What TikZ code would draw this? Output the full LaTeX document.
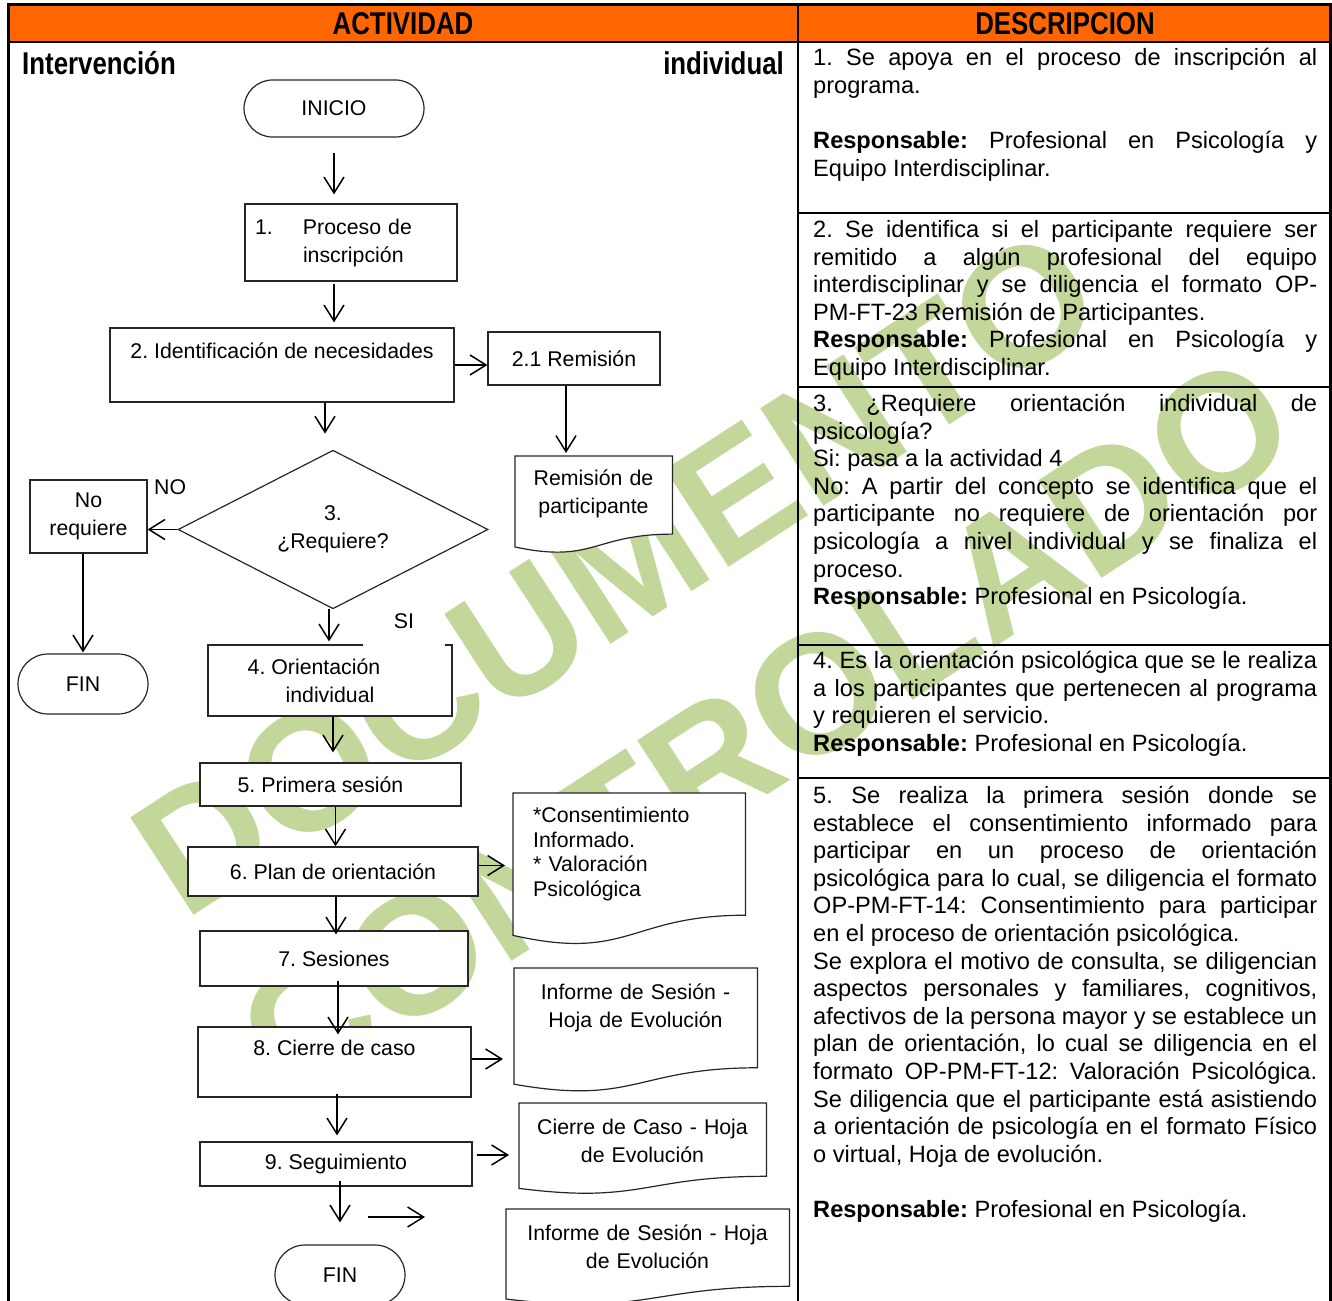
\documentclass[tikz,border=0pt]{standalone}
\usepackage{fontspec}
\setmainfont{Liberation Sans}
\newfontfamily\narrowfont[FakeStretch=0.82]{Liberation Sans}
\usetikzlibrary{calc,positioning,arrows.meta,shapes.geometric,shapes.misc}

\definecolor{cabecera}{HTML}{FF6600}
\definecolor{marcaverde}{HTML}{C3D79B}

\frenchspacing
\hyphenpenalty=10000
\exhyphenpenalty=10000
\tolerance=10000

% marco de documento (borde inferior ondulado)
\newcommand{\docframe}[1]{%
  \draw[docline] (#1.north west) -- (#1.north east)
    -- ($(#1.north east)!0.802!(#1.south east)$)
    .. controls ($(#1.north)!0.802!(#1.south)$) and ($(#1.north)!1.107!(#1.south)$)
    .. ($(#1.north west)!0.934!(#1.south west)$) -- cycle;}

\tikzset{
  flujo/.style={font=\fontsize{21.3}{28}\selectfont},
  proceso/.style={flujo, draw=black!85, fill=white, line width=1.2pt, rectangle, inner sep=0pt, align=center},
  terminal/.style={flujo, draw=black!85, fill=white, line width=1.2pt, rounded rectangle, inner sep=0pt},
  decision/.style={flujo, draw=black!85, fill=white, line width=1.2pt, diamond, inner sep=0pt, align=center},
  docbox/.style={rectangle, inner sep=0pt, anchor=north west},
  docline/.style={draw=black!85, fill=white, line width=1.2pt},
  doctext/.style={flujo, inner sep=0pt, align=center, anchor=base},
  flecha/.style={-{Straight Barb[length=16pt,width=20pt]}, line width=1.5pt},
  desc/.style={font=\fontsize{23.6}{27.6}\selectfont, text width=504pt, align=justify, inner sep=0pt, anchor=base west},
  borde/.style={line width=2.5pt},
  titulo/.style={font=\narrowfont\bfseries\fontsize{31.5}{36}\selectfont},
  marca/.style={text=marcaverde, font=\fontsize{169}{180}\selectfont\bfseries, rotate=33, inner sep=0pt},
}

\begin{document}
\begin{tikzpicture}[x=1pt, y=1pt]
  \useasboundingbox (0,0) rectangle (1332,-1300);

  % marca de agua
  \node[marca] (marca1) at (616,-572) {DOCUMENTO};
  \node[marca] (marca2) at (766,-727) {CONTROLADO};

  % tabla
  \fill[cabecera] (8,-5) rectangle (1330,-42);
  \draw[line width=3pt] (8,-1320) -- (8,-5) -- (1330,-5) -- (1330,-1320);
  \draw[borde] (8,-42) -- (1330,-42);
  \draw[borde] (798,-5) -- (798,-1320);
  \foreach \y in {213,387,645,778}
    \draw[borde] (798,-\y) -- (1330,-\y);

  \node[titulo] (actividad) at (403,-24) {ACTIVIDAD};
  \node[titulo] (descripcion) at (1065,-24) {DESCRIPCION};
  \node[titulo, anchor=base west, inner sep=0pt] (interv) at (22,-75) {Intervención};
  \node[titulo, anchor=base east, inner sep=0pt] (indiv) at (784,-75) {individual};

  % diagrama
  \node[terminal, minimum width=180, minimum height=57] (inicio) at (334,-108.5) {INICIO};
  \node[proceso, minimum width=212, minimum height=77, text width=192, align=left] (p1) at (351,-242.5)
    {\makebox[48pt][l]{1.}Proceso de\\\hspace*{48pt}inscripción};
  \node[proceso, minimum width=344, minimum height=74] (p2) at (282,-365) {2. Identificación de necesidades\\\mbox{}};
  \node[proceso, minimum width=172, minimum height=53] (rem) at (574,-358.5) {2.1 Remisión};
  \node[docbox, minimum width=157, minimum height=97] (remdoc) at (515,-456) {};
  \docframe{remdoc}
  \node[doctext, text width=150] (remdoctxt) at (593.5,-485.5) {Remisión de\\participante};

  \node[decision, minimum width=310, minimum height=147] (dec) at (333,-529.5) {3.\\¿Requiere?};
  \node[proceso, minimum width=117, minimum height=73] (noreq) at (88.5,-516.5) {No\\requiere};
  \node[flujo, anchor=west, inner sep=0pt] (no) at (154,-487) {NO};
  \node[terminal, minimum width=130, minimum height=60] (fin1) at (83,-684) {FIN};

  \node[proceso, minimum width=244, minimum height=71] (p4) at (330,-680.5) {4. Orientación\hspace*{32pt}\\individual};
  \node[flujo, fill=white, minimum width=82, minimum height=50, inner sep=0pt] (si) at (404,-621) {SI};
  \node[proceso, minimum width=261, minimum height=43] (p5) at (330.5,-784.5) {5. Primera sesión\hspace*{20pt}};
  \node[proceso, minimum width=290, minimum height=49] (p6) at (333,-871.5) {6. Plan de orientación};
  \node[docbox, minimum width=232, minimum height=152] (valdoc) at (513,-793) {};
  \docframe{valdoc}
  \node[font=\fontsize{21.3}{24.5}\selectfont, text width=200, align=left, anchor=base west, inner sep=0pt] (valdoctxt) at (533,-822.5)
    {*Consentimiento\\Informado.\\{}* Valoración\\Psicológica};

  \node[proceso, minimum width=268, minimum height=55] (p7) at (334,-958.5) {7. Sesiones};
  \node[proceso, minimum width=273, minimum height=70] (p8) at (334.5,-1062) {8. Cierre de caso\\\mbox{}};
  \node[docbox, minimum width=243, minimum height=124] (infdoc) at (514,-968) {};
  \docframe{infdoc}
  \node[doctext, text width=230] (infdoctxt) at (635.5,-999.5) {Informe de Sesión -\\Hoja de Evolución};

  \node[proceso, minimum width=272, minimum height=44] (p9) at (336,-1164) {9. Seguimiento};
  \node[docbox, minimum width=247, minimum height=91] (cierredoc) at (519,-1103) {};
  \docframe{cierredoc}
  \node[doctext, text width=235] (cierredoctxt) at (642.5,-1134.5) {Cierre de Caso - Hoja\\de Evolución};

  \node[terminal, minimum width=130, minimum height=60] (fin2) at (340,-1275) {FIN};
  \node[docbox, minimum width=283, minimum height=96] (segdoc) at (506,-1209) {};
  \docframe{segdoc}
  \node[doctext, text width=270] (segdoctxt) at (647.5,-1240.5) {Informe de Sesión - Hoja\\de Evolución};

  % flechas
  \draw[flecha, shorten <=15pt, shorten >=9pt] (inicio.south) -- (inicio.south |- p1.north);
  \draw[flecha, shorten <=2pt, shorten >=5pt] (inicio.south |- p1.south) -- (inicio.south |- p2.north);
  \draw[flecha] (p2.east) -- (p2.east -| rem.west);
  \draw[flecha, shorten >=3pt] ([xshift=-8pt]rem.south) -- ([xshift=-8pt]rem.south |- remdoc.north);
  \draw[flecha, shorten >=16pt] ([xshift=-8pt]dec.north |- p2.south) -- ([xshift=-8pt]dec.north);
  \draw[flecha] (dec.west) -- (dec.west -| noreq.east);
  \draw[flecha, shorten >=1pt] (fin1.north |- noreq.south) -- (fin1.north);
  \draw[flecha, shorten >=3pt] ([xshift=-4pt]dec.south) -- ([xshift=-4pt]dec.south |- p4.north);
  \draw[flecha, shorten >=10pt] ([xshift=3pt]p4.south) -- ([xshift=3pt]p4.south |- p5.north);
  \draw[flecha] ([xshift=5pt]p5.south) -- ([xshift=5pt]p5.south |- p6.north);
  \draw[flecha, shorten >=8pt] ([yshift=6pt]p6.east) -- ([yshift=6pt]p6.east -| valdoc.west);
  \draw[flecha, shorten >=-4pt] ([xshift=3pt]p6.south) -- ([xshift=3pt]p6.south |- p7.north);
  \draw[flecha, shorten <=-6pt, shorten >=-8pt] ([xshift=4pt]p7.south) -- ([xshift=4pt]p7.south |- p8.north);
  \draw[flecha, shorten >=11pt] ([yshift=3pt]p8.east) -- ([yshift=3pt]p8.east -| infdoc.west);
  \draw[flecha, shorten <=-4pt, shorten >=6pt] ([xshift=2.5pt]p8.south) -- ([xshift=2.5pt]p8.south |- p9.north);
  \draw[flecha, shorten <=4pt, shorten >=10pt] ([yshift=9pt]p9.east) -- ([yshift=9pt]p9.east -| cierredoc.west);
  \draw[flecha, shorten <=-6pt, shorten >=22pt] ([xshift=4pt]p9.south) -- ([xshift=4pt]p9.south |- fin2.north);
  \coordinate (libre1) at (368,-1217);
  \coordinate (libre2) at (425,-1217);
  \draw[flecha] (libre1) -- (libre2);

  % descripcion
  \node[desc] (d1) at (813,-66) {1. Se apoya en el proceso de inscripción al\linebreak
    programa.\\[27.6pt]
    \textbf{Responsable:} Profesional en Psicología y\linebreak
    Equipo Interdisciplinar.};
  \node[desc] (d2) at (813,-237.5) {2. Se identifica si el participante requiere ser\linebreak
    remitido a algún profesional del equipo\linebreak
    interdisciplinar y se diligencia el formato OP-\linebreak
    PM-FT-23 Remisión de Participantes.\\
    \textbf{Responsable:} Profesional en Psicología y\linebreak
    Equipo Interdisciplinar.};
  \node[desc] (d3) at (813,-411.5) {3. ¿Requiere orientación individual de\linebreak
    psicología?\\
    Si: pasa a la actividad 4\\
    No: A partir del concepto se identifica que el\linebreak
    participante no requiere de orientación por\linebreak
    psicología a nivel individual y se finaliza el\linebreak
    proceso.\\
    \textbf{Responsable:} Profesional en Psicología.};
  \node[desc] (d4) at (813,-668.5) {4. Es la orientación psicológica que se le realiza\linebreak
    a los participantes que pertenecen al programa\linebreak
    y requieren el servicio.\\
    \textbf{Responsable:} Profesional en Psicología.};
  \node[desc] (d5) at (813,-803.5) {5. Se realiza la primera sesión donde se\linebreak
    establece el consentimiento informado para\linebreak
    participar en un proceso de orientación\linebreak
    psicológica para lo cual, se diligencia el formato\linebreak
    OP-PM-FT-14: Consentimiento para participar\linebreak
    en el proceso de orientación psicológica.\\
    Se explora el motivo de consulta, se diligencian\linebreak
    aspectos personales y familiares, cognitivos,\linebreak
    afectivos de la persona mayor y se establece un\linebreak
    plan de orientación, lo cual se diligencia en el\linebreak
    formato OP-PM-FT-12: Valoración Psicológica.\linebreak
    Se diligencia que el participante está asistiendo\linebreak
    a orientación de psicología en el formato Físico\linebreak
    o virtual, Hoja de evolución.\\[27.6pt]
    \textbf{Responsable:} Profesional en Psicología.};
\end{tikzpicture}
\end{document}
